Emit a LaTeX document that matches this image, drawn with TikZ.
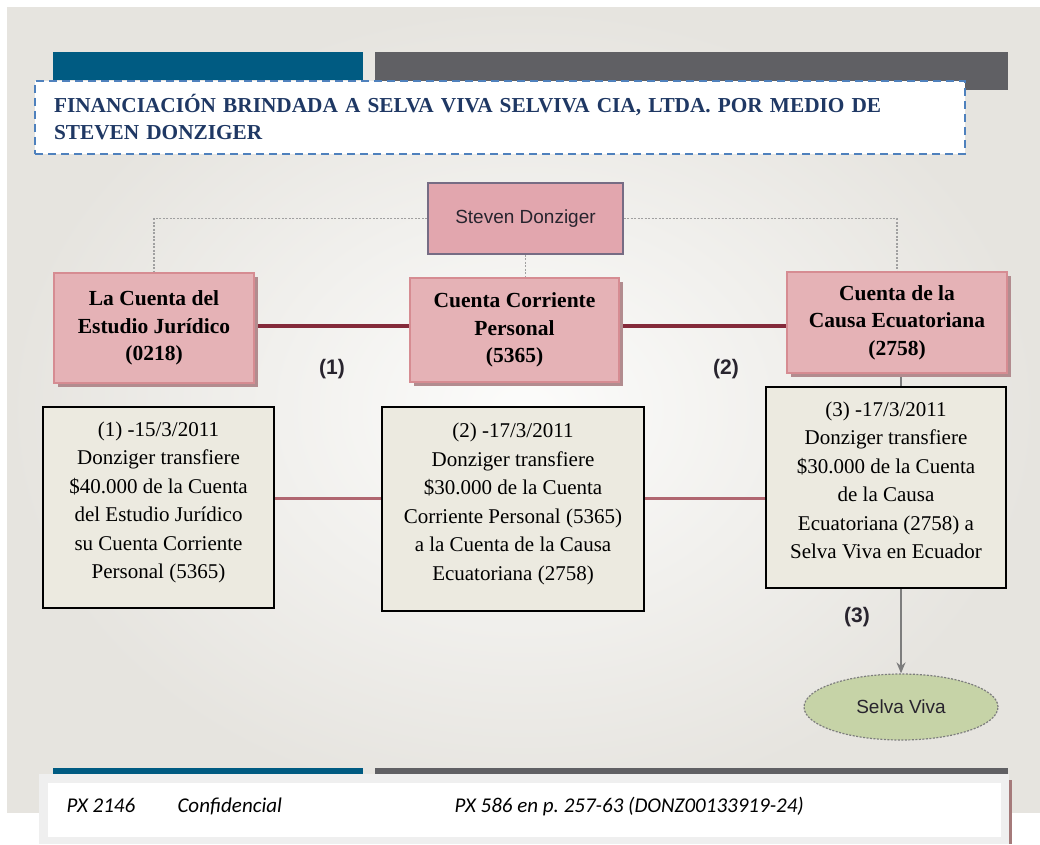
\documentclass[tikz,border=0pt]{standalone}
\usepackage{fontspec}
\setmainfont{Liberation Serif}
\setsansfont{Liberation Sans}
\newfontfamily\footfont{Carlito}
\usetikzlibrary{positioning, shapes.geometric, shadows, arrows.meta}
\definecolor{bluebar}{RGB}{0,91,130}
\definecolor{greybar}{RGB}{96,96,100}
\definecolor{titleblue}{RGB}{31,56,100}
\definecolor{dashblue}{RGB}{79,129,189}
\definecolor{pinkfill}{RGB}{229,178,182}
\definecolor{pinkline}{RGB}{214,140,146}
\definecolor{pinkshade}{RGB}{178,140,143}
\definecolor{bossfill}{RGB}{226,166,174}
\definecolor{bossline}{RGB}{118,108,132}
\definecolor{linkred}{RGB}{132,42,58}
\definecolor{lowred}{RGB}{176,102,112}
\definecolor{notefill}{RGB}{236,234,224}
\definecolor{dotgrey}{RGB}{160,160,160}
\definecolor{flowgrey}{RGB}{125,125,125}
\definecolor{selvafill}{RGB}{198,211,167}
\definecolor{bginner}{RGB}{252,252,251}
\definecolor{bgouter}{RGB}{230,228,223}
\definecolor{footpanel}{RGB}{239,239,239}
\definecolor{footedge}{RGB}{165,122,122}
\definecolor{inkgrey}{RGB}{40,36,46}
\pgfdeclarelayer{back}
\pgfdeclarelayer{links}
\pgfsetlayers{back,links,main}
\tikzset{
>={Stealth[length=11pt, width=9pt]}, % filled arrow heads
titlebox/.style={draw=dashblue, line width=2pt, dash pattern=on 8pt off 5pt, fill=white,
  text width=892pt, inner xsep=19pt, minimum height=73pt, align=left, text=titleblue,
  font=\bfseries\fontsize{21.3}{27}\selectfont}, % the heading
boss/.style={draw=bossline, line width=1.2pt, fill=bossfill, minimum width=195pt,
  minimum height=71pt, text=inkgrey, font=\sffamily\fontsize{19}{19}\selectfont},
account/.style={draw=pinkline, line width=1.5pt, fill=pinkfill, align=center, inner sep=0pt,
  font=\bfseries\fontsize{21.5}{27.5}\selectfont,
  drop shadow={shadow xshift=3.5pt, shadow yshift=-3.5pt, fill=pinkshade, opacity=1}},
note/.style={draw=black, line width=1.3pt, fill=notefill, align=center, inner sep=0pt,
  font=\fontsize{21}{28.5}\selectfont},
stepmark/.style={text=inkgrey, font=\sffamily\bfseries\fontsize{21}{21}\selectfont},
selva/.style={ellipse, draw=flowgrey, line width=1.2pt, dash pattern=on 2pt off 1.5pt,
  fill=selvafill, minimum width=194pt, minimum height=66pt, inner sep=0pt, text=inkgrey,
  font=\sffamily\fontsize{19}{19}\selectfont},
dotlink/.style={dotgrey, line width=1.5pt, dash pattern=on 2pt off 1.5pt},
redlink/.style={linkred, line width=4pt},
lowlink/.style={lowred, line width=3pt},
flow/.style={->, flowgrey, line width=2.5pt},
foot/.style={anchor=base west, font=\footfont\itshape\fontsize{21}{21}\selectfont},
}
\begin{document}
\begin{tikzpicture}[x=1pt, y=-1pt]
  \useasboundingbox (0,0) rectangle (1040,844);
  \begin{pgfonlayer}{back}
    \shade[inner color=bginner, outer color=bgouter] (7,7) rectangle (1040,812);
  \end{pgfonlayer}

  % heading
  \fill[bluebar] (53,52) rectangle (363,80);
  \fill[greybar] (375,52) rectangle (1008,90);
  \node[titlebox] (title) at (500,117) {FINANCIACIÓN BRINDADA A SELVA VIVA SELVIVA CIA, LTDA. POR MEDIO DE\\STEVEN DONZIGER};

  % accounts
  \node[boss] (steven) at (525.5,218.5) {Steven Donziger};
  \node[account, minimum width=200pt, minimum height=110pt] (estudio) at (154,328) {La Cuenta del\\Estudio Jurídico\\(0218)};
  \node[account, minimum width=209pt, minimum height=104pt] (personal) at (514.5,330) {Cuenta Corriente\\Personal\\(5365)};
  \node[account, minimum width=220pt, minimum height=101pt] (causa) at (897,322.5) {Cuenta de la\\Causa Ecuatoriana\\(2758)};

  \node[stepmark] (paso1) at (332,369) {(1)};
  \node[stepmark] (paso2) at (726,369) {(2)};
  \node[stepmark] (paso3) at (857,617) {(3)};

  % transfers
  \node[note, minimum width=231pt, minimum height=201pt] (nota1) at (158.5,507.5) {(1) -15/3/2011\\Donziger transfiere\\\$40.000 de la Cuenta\\del Estudio Jurídico\\su Cuenta Corriente\\Personal (5365)\\[-14pt]};
  \node[note, minimum width=262pt, minimum height=204pt] (nota2) at (513,509) {(2) -17/3/2011\\Donziger transfiere\\\$30.000 de la Cuenta\\Corriente Personal (5365)\\a la Cuenta de la Causa\\Ecuatoriana (2758)\\[-14pt]};
  \node[note, minimum width=240pt, minimum height=201pt] (nota3) at (886,487.5) {(3) -17/3/2011\\Donziger transfiere\\\$30.000 de la Cuenta\\de la Causa\\Ecuatoriana (2758) a\\Selva Viva en Ecuador\\[-14pt]};

  \node[selva] (selva) at (901,707) {Selva Viva};

  \coordinate (toprow) at (0,326);
  \coordinate (lowrow) at (0,498);
  \begin{pgfonlayer}{links}
    \draw[dotlink] (steven.west) -| (estudio.north);
    \draw[dotlink] (steven.east) -| (causa.north);
    \draw[dotlink] (steven.south) -- (steven.south |- personal.north);
    \draw[redlink] (estudio.east |- toprow) -- (personal.west |- toprow);
    \draw[redlink] (personal.east |- toprow) -- (causa.west |- toprow);
    \draw[lowlink] (nota1.east |- lowrow) -- (nota2.west |- lowrow);
    \draw[lowlink] (nota2.east |- lowrow) -- (nota3.west |- lowrow);
    \draw[flow] (selva.north |- causa.south) -- (selva.north);
  \end{pgfonlayer}

  % footer
  \fill[bluebar] (53,768) rectangle (363,774);
  \fill[greybar] (375,768) rectangle (1008,774);
  \fill[footpanel] (39,774) rectangle (1009,844);
  \fill[white] (48,783) rectangle (1001,837);
  \draw[footedge, line width=3pt] (1010.5,780) -- (1010.5,844);
  \node[foot] (px1) at (63,812) {PX 2146};
  \node[foot] (conf) at (174,812) {Confidencial};
  \node[foot] (px2) at (451,812) {PX 586 en p.\ 257-63 (DONZ00133919-24)};
\end{tikzpicture}
\end{document}
